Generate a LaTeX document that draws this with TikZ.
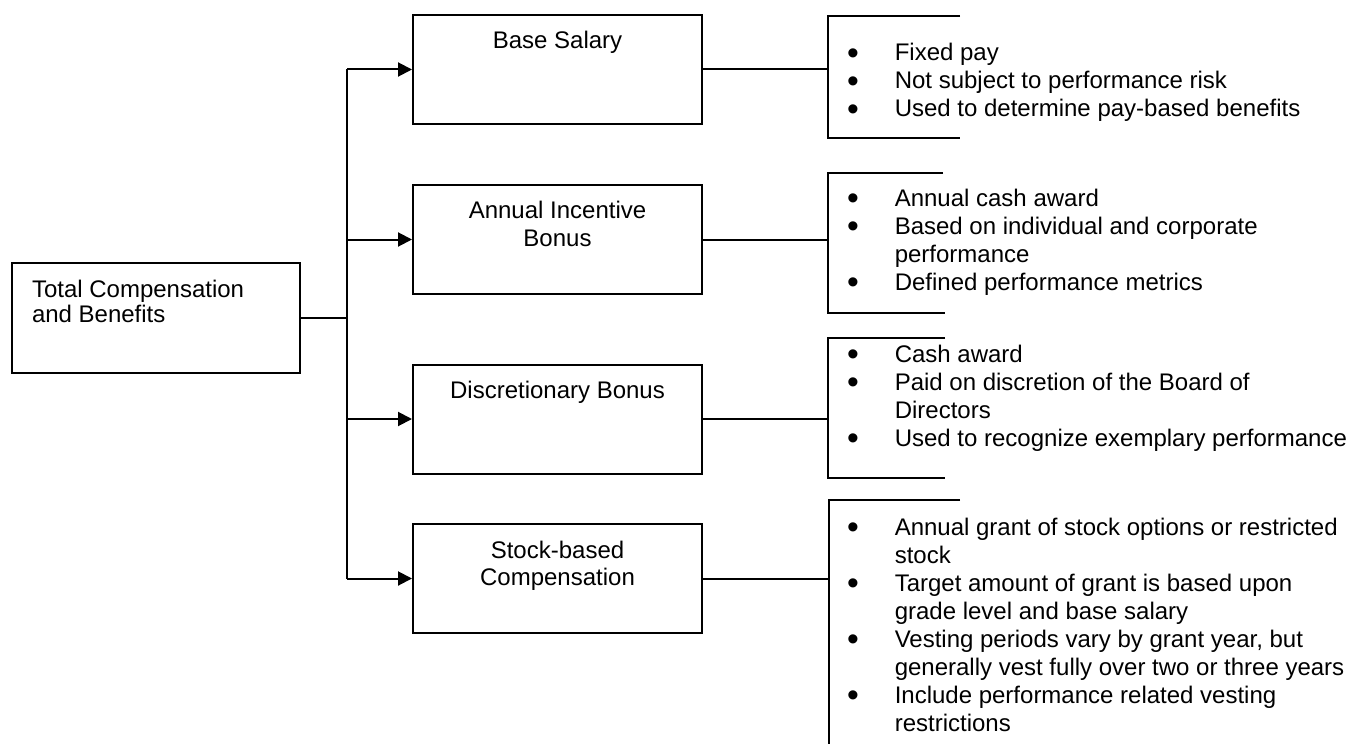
\documentclass[tikz,border=0pt]{standalone}
\usepackage{fontspec}
\setmainfont{Liberation Sans}
\usetikzlibrary{arrows.meta}

\newcommand{\boxtext}[1]{\parbox[c][54.5pt][t]{144.5pt}{\centering\baselineskip=13.5pt\rule{0pt}{17pt}#1}}
\newcommand{\blt}{\smash{\raisebox{-1.6pt}{\scalebox{1.4}{\textbullet}}}}
\newcommand{\bullets}[1]{\begin{tabular}[t]{@{}l@{\hspace{18pt}}l@{}}#1\end{tabular}}

\begin{document}
\begin{tikzpicture}[x=0.5pt,y=-0.5pt,line width=1pt,
    >={Triangle[length=7pt,width=7pt]},
    box/.style={rectangle, draw, inner sep=0pt, font=\fontsize{12}{14}\selectfont},
    list/.style={anchor=base west, inner sep=0pt, font=\fontsize{12}{14}\selectfont}]
      \useasboundingbox (0,0) rectangle (1352,743);

      \node at(156,318) [box] (total) {\parbox[c][55pt][t]{144pt}{\leftskip=10pt\baselineskip=12.5pt\rule{0pt}{17pt}Total Compensation\\and Benefits}};

      \node at(557.5,69.5)  [box] (base) {\boxtext{Base Salary}};
      \node at(557.5,239.5) [box] (annual) {\boxtext{Annual Incentive\\Bonus}};
      \node at(557.5,419)   [box] (discretionary) {\boxtext{Discretionary Bonus}};
      \node at(557.5,578.5) [box] (stock) {\boxtext{Stock-based\\Compensation}};

      \coordinate (split) at (347,318);
      \draw (total) -- (split);
      \draw (split |- base.west) -- (split |- stock.west);
      \path
      (split |- base.west)          edge[->] (base)
      (split |- annual.west)        edge[->] (annual)
      (split |- discretionary.west) edge[->] (discretionary)
      (split |- stock.west)         edge[->] (stock);

      \node at(846,61) [list] (base-list) {\bullets{
        \blt & Fixed pay\\
        \blt & Not subject to performance risk\\
        \blt & Used to determine pay-based benefits}};
      \node at(846,206) [list] (annual-list) {\bullets{
        \blt & Annual cash award\\
        \blt & Based on individual and corporate\\
             & performance\\
        \blt & Defined performance metrics}};
      \node at(846,362) [list] (discretionary-list) {\bullets{
        \blt & Cash award\\
        \blt & Paid on discretion of the Board of\\
             & Directors\\
        \blt & Used to recognize exemplary performance}};
      \node at(846,535) [list] (stock-list) {\bullets{
        \blt & Annual grant of stock options or restricted\\
             & stock\\
        \blt & Target amount of grant is based upon\\
             & grade level and base salary\\
        \blt & Vesting periods vary by grant year, but\\
             & generally vest fully over two or three years\\
        \blt & Include performance related vesting\\
             & restrictions}};

      \coordinate (base-br) at (828,69.5);
      \coordinate (annual-br) at (828,239.5);
      \coordinate (discretionary-br) at (828,419);
      \coordinate (stock-br) at (829,578.5);
      \draw (base) -- (base-br);
      \draw (annual) -- (annual-br);
      \draw (discretionary) -- (discretionary-br);
      \draw (stock) -- (stock-br);

      \draw (960,16) -- (828,16) -- (828,138) -- (960,138);
      \draw (943,173) -- (828,173) -- (828,313) -- (945,313);
      \draw (945,338) -- (828,338) -- (828,478) -- (945,478);
      \draw (960,500) -- (829,500) -- (829,745);

    \end{tikzpicture}
\end{document}
